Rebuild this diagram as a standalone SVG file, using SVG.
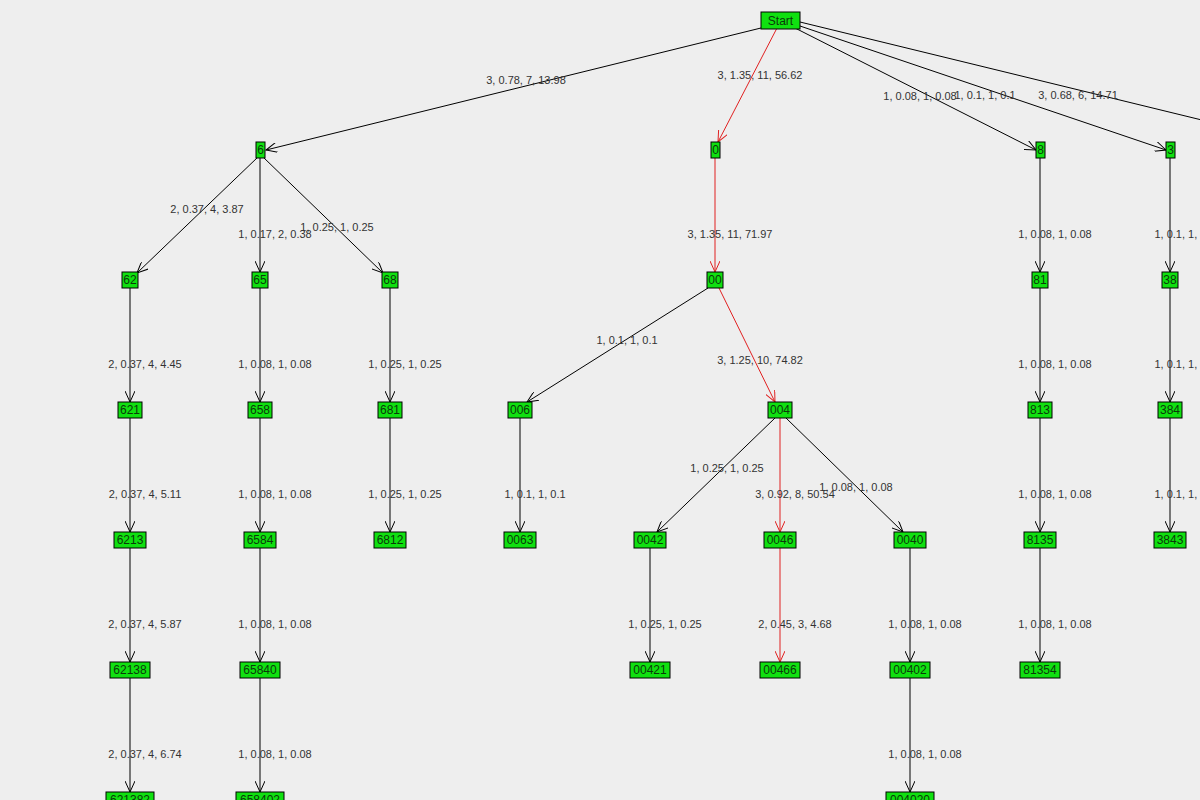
<svg xmlns="http://www.w3.org/2000/svg" width="1200" height="800" viewBox="0 0 1200 800">
<style>
.n rect{fill:#10e010;stroke:#000;stroke-width:1}
.n text{font-family:"Liberation Sans",Arial,sans-serif;font-size:12px;fill:#0a3a0a;text-anchor:middle}
.e line{stroke:#000;stroke-width:1;marker-end:url(#a)}
.e line.r{stroke:#e02020;marker-end:url(#ar)}
.l text{font-family:"Liberation Sans",Arial,sans-serif;font-size:11px;fill:#333;text-anchor:middle}
</style>
<defs>
<marker id="a" viewBox="0 0 12 10" refX="11" refY="5" markerWidth="12" markerHeight="10" markerUnits="userSpaceOnUse" orient="auto"><path d="M0,0 L11,5 L0,10" fill="none" stroke="#000" stroke-width="1"/></marker>
<marker id="ar" viewBox="0 0 12 10" refX="11" refY="5" markerWidth="12" markerHeight="10" markerUnits="userSpaceOnUse" orient="auto"><path d="M0,0 L11,5 L0,10" fill="none" stroke="#e02020" stroke-width="1"/></marker>
</defs>
<rect width="1200" height="800" fill="#eeeeee"/>
<g id="connectors" class="e">
<line x1="765" y1="27" x2="266" y2="150"/>
<line class="r" x1="777" y1="28" x2="718" y2="142"/>
<line x1="795" y1="28" x2="1036" y2="150"/>
<line x1="800" y1="26" x2="1166" y2="150"/>
<line x1="800" y1="22" x2="1210" y2="122" style="marker-end:none"/>
<line x1="258" y1="157" x2="137" y2="273"/>
<line x1="260" y1="158" x2="260" y2="272"/>
<line x1="263" y1="157" x2="383" y2="273"/>
<line class="r" x1="715" y1="158" x2="715" y2="272"/>
<line x1="1040" y1="158" x2="1040" y2="272"/>
<line x1="1170" y1="158" x2="1170" y2="272"/>
<line x1="130" y1="288" x2="130" y2="402"/>
<line x1="260" y1="288" x2="260" y2="402"/>
<line x1="390" y1="288" x2="390" y2="402"/>
<line x1="708" y1="288" x2="527" y2="402"/>
<line class="r" x1="719" y1="288" x2="775" y2="402"/>
<line x1="1040" y1="288" x2="1040" y2="402"/>
<line x1="1170" y1="288" x2="1170" y2="402"/>
<line x1="130" y1="418" x2="130" y2="532"/>
<line x1="260" y1="418" x2="260" y2="532"/>
<line x1="390" y1="418" x2="390" y2="532"/>
<line x1="520" y1="418" x2="520" y2="532"/>
<line x1="775" y1="418" x2="657" y2="532"/>
<line class="r" x1="780" y1="418" x2="780" y2="532"/>
<line x1="786" y1="418" x2="903" y2="532"/>
<line x1="1040" y1="418" x2="1040" y2="532"/>
<line x1="1170" y1="418" x2="1170" y2="532"/>
<line x1="130" y1="548" x2="130" y2="662"/>
<line x1="260" y1="548" x2="260" y2="662"/>
<line x1="650" y1="548" x2="650" y2="662"/>
<line class="r" x1="780" y1="548" x2="780" y2="662"/>
<line x1="910" y1="548" x2="910" y2="662"/>
<line x1="1040" y1="548" x2="1040" y2="662"/>
<line x1="130" y1="678" x2="130" y2="792"/>
<line x1="260" y1="678" x2="260" y2="792"/>
<line x1="910" y1="678" x2="910" y2="792"/>
</g>
<g id="labels" class="l">
<text x="526" y="84">3, 0.78, 7, 13.98</text>
<text x="760" y="79">3, 1.35, 11, 56.62</text>
<text x="920" y="100">1, 0.08, 1, 0.08</text>
<text x="985" y="99">1, 0.1, 1, 0.1</text>
<text x="1078" y="99">3, 0.68, 6, 14.71</text>
<text x="207" y="213">2, 0.37, 4, 3.87</text>
<text x="275" y="238">1, 0.17, 2, 0.38</text>
<text x="337" y="231">1, 0.25, 1, 0.25</text>
<text x="730" y="238">3, 1.35, 11, 71.97</text>
<text x="1055" y="238">1, 0.08, 1, 0.08</text>
<text x="1185" y="238">1, 0.1, 1, 0.1</text>
<text x="145" y="368">2, 0.37, 4, 4.45</text>
<text x="275" y="368">1, 0.08, 1, 0.08</text>
<text x="405" y="368">1, 0.25, 1, 0.25</text>
<text x="627" y="344">1, 0.1, 1, 0.1</text>
<text x="760" y="364">3, 1.25, 10, 74.82</text>
<text x="1055" y="368">1, 0.08, 1, 0.08</text>
<text x="1185" y="368">1, 0.1, 1, 0.1</text>
<text x="145" y="498">2, 0.37, 4, 5.11</text>
<text x="275" y="498">1, 0.08, 1, 0.08</text>
<text x="405" y="498">1, 0.25, 1, 0.25</text>
<text x="535" y="498">1, 0.1, 1, 0.1</text>
<text x="727" y="472">1, 0.25, 1, 0.25</text>
<text x="795" y="498">3, 0.92, 8, 50.54</text>
<text x="856" y="491">1, 0.08, 1, 0.08</text>
<text x="1055" y="498">1, 0.08, 1, 0.08</text>
<text x="1185" y="498">1, 0.1, 1, 0.1</text>
<text x="145" y="628">2, 0.37, 4, 5.87</text>
<text x="275" y="628">1, 0.08, 1, 0.08</text>
<text x="665" y="628">1, 0.25, 1, 0.25</text>
<text x="795" y="628">2, 0.45, 3, 4.68</text>
<text x="925" y="628">1, 0.08, 1, 0.08</text>
<text x="1055" y="628">1, 0.08, 1, 0.08</text>
<text x="145" y="758">2, 0.37, 4, 6.74</text>
<text x="275" y="758">1, 0.08, 1, 0.08</text>
<text x="925" y="758">1, 0.08, 1, 0.08</text>
</g>
<g class="n">
<g id="n-start"><rect x="761" y="12" width="39" height="17"/><text x="780.5" y="25">Start</text></g>
<g id="n-6"><rect x="256" y="142" width="9" height="16"/><text x="260.5" y="154">6</text></g>
<g id="n-0"><rect x="711" y="142" width="9" height="16"/><text x="715.5" y="154">0</text></g>
<g id="n-8"><rect x="1036" y="142" width="9" height="16"/><text x="1040.5" y="154">8</text></g>
<g id="n-3"><rect x="1166" y="142" width="9" height="16"/><text x="1170.5" y="154">3</text></g>
<g id="n-62"><rect x="122" y="272" width="16" height="16"/><text x="130" y="284">62</text></g>
<g id="n-65"><rect x="252" y="272" width="16" height="16"/><text x="260" y="284">65</text></g>
<g id="n-68"><rect x="382" y="272" width="16" height="16"/><text x="390" y="284">68</text></g>
<g id="n-00"><rect x="707" y="272" width="16" height="16"/><text x="715" y="284">00</text></g>
<g id="n-81"><rect x="1032" y="272" width="16" height="16"/><text x="1040" y="284">81</text></g>
<g id="n-38"><rect x="1162" y="272" width="16" height="16"/><text x="1170" y="284">38</text></g>
<g id="n-621"><rect x="118" y="402" width="24" height="16"/><text x="130" y="414">621</text></g>
<g id="n-658"><rect x="248" y="402" width="24" height="16"/><text x="260" y="414">658</text></g>
<g id="n-681"><rect x="378" y="402" width="24" height="16"/><text x="390" y="414">681</text></g>
<g id="n-006"><rect x="508" y="402" width="24" height="16"/><text x="520" y="414">006</text></g>
<g id="n-004"><rect x="768" y="402" width="24" height="16"/><text x="780" y="414">004</text></g>
<g id="n-813"><rect x="1028" y="402" width="24" height="16"/><text x="1040" y="414">813</text></g>
<g id="n-384"><rect x="1158" y="402" width="24" height="16"/><text x="1170" y="414">384</text></g>
<g id="n-6213"><rect x="114" y="532" width="32" height="16"/><text x="130" y="544">6213</text></g>
<g id="n-6584"><rect x="244" y="532" width="32" height="16"/><text x="260" y="544">6584</text></g>
<g id="n-6812"><rect x="374" y="532" width="32" height="16"/><text x="390" y="544">6812</text></g>
<g id="n-0063"><rect x="504" y="532" width="32" height="16"/><text x="520" y="544">0063</text></g>
<g id="n-0042"><rect x="634" y="532" width="32" height="16"/><text x="650" y="544">0042</text></g>
<g id="n-0046"><rect x="764" y="532" width="32" height="16"/><text x="780" y="544">0046</text></g>
<g id="n-0040"><rect x="894" y="532" width="32" height="16"/><text x="910" y="544">0040</text></g>
<g id="n-8135"><rect x="1024" y="532" width="32" height="16"/><text x="1040" y="544">8135</text></g>
<g id="n-3843"><rect x="1154" y="532" width="32" height="16"/><text x="1170" y="544">3843</text></g>
<g id="n-62138"><rect x="110" y="662" width="40" height="16"/><text x="130" y="674">62138</text></g>
<g id="n-65840"><rect x="240" y="662" width="40" height="16"/><text x="260" y="674">65840</text></g>
<g id="n-00421"><rect x="630" y="662" width="40" height="16"/><text x="650" y="674">00421</text></g>
<g id="n-00466"><rect x="760" y="662" width="40" height="16"/><text x="780" y="674">00466</text></g>
<g id="n-00402"><rect x="890" y="662" width="40" height="16"/><text x="910" y="674">00402</text></g>
<g id="n-81354"><rect x="1020" y="662" width="40" height="16"/><text x="1040" y="674">81354</text></g>
<g id="n-621382"><rect x="106" y="792" width="48" height="16"/><text x="130" y="804">621382</text></g>
<g id="n-658402"><rect x="236" y="792" width="48" height="16"/><text x="260" y="804">658402</text></g>
<g id="n-004020"><rect x="886" y="792" width="48" height="16"/><text x="910" y="804">004020</text></g>
</g>
</svg>
